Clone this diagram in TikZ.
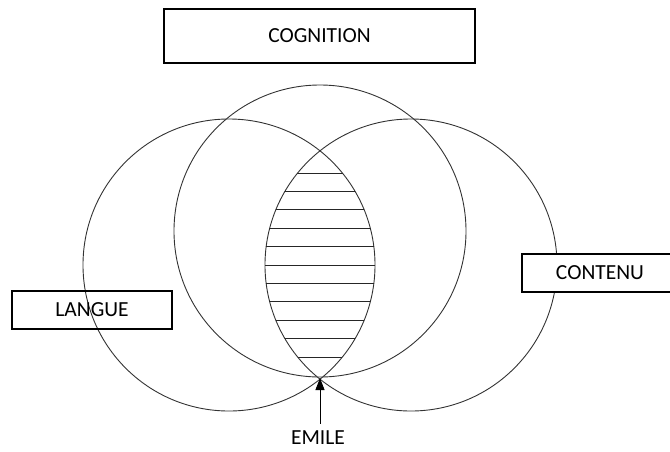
\documentclass[tikz,border=0pt]{standalone}
\usepackage{fontspec}
\setmainfont{Carlito}
\usetikzlibrary{arrows.meta}
\begin{document}
\begin{tikzpicture}[x=1pt,y=-1pt,
  ring/.style={draw=black!80,line width=0.9pt},
  hatch/.style={draw=black!85,line width=1pt},
  labelbox/.style={draw,line width=1.1pt,inner sep=0pt,font=\fontsize{21.5}{25}\selectfont},
  tag/.style={font=\fontsize{21.5}{25}\selectfont,inner sep=0pt,text depth=0pt},
  pointer/.style={-{Triangle[length=12pt,width=9pt]},line width=1pt}]
\useasboundingbox (0,0) rectangle (670,451);
% the three overlapping rings
\draw[ring] (229,265) circle[radius=146];
\draw[ring] (320,231) circle[radius=146];
\draw[ring] (411,265) circle[radius=146];
% horizontal hatching inside the lens of the two lower rings
\begin{scope}
  \clip (229,265) circle[radius=146];
  \clip (411,265) circle[radius=146];
  \foreach \k in {-5,...,5}
    \draw[hatch] (250,265+18.4*\k) -- (390,265+18.4*\k);
\end{scope}
% labels
\node[labelbox,minimum width=311,minimum height=54] (cognition) at (319.5,36) {COGNITION};
\node[labelbox,minimum width=160,minimum height=38] (langue) at (92,310) {LANGUE};
\node[labelbox,fill=white,minimum width=156,minimum height=38] (contenu) at (600,273) {CONTENU};
% pointer to the common point
\coordinate (meet) at (320,378);
\node[tag,anchor=south] (emile) at (318,445) {EMILE};
\draw[pointer,shorten <=7pt] (emile.north -| meet) -- (meet);
\end{tikzpicture}
\end{document}
